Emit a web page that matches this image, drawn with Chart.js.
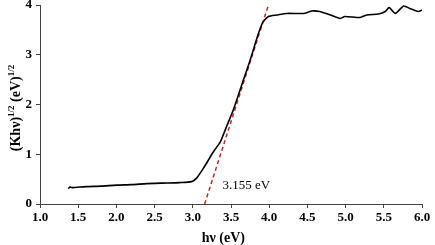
<!DOCTYPE html>
<html>
<head>
<meta charset="utf-8">
<script src="https://cdn.jsdelivr.net/npm/chart.js@4/dist/chart.umd.min.js"></script>
<style>
  html, body { margin: 0; padding: 0; background: #fff; }
  #wrap { width: 435px; height: 245px; }
</style>
</head>
<body>
<div id="wrap"><canvas id="tauc" width="435" height="245"></canvas></div>
<script>
// Tauc plot data
const hv = [1.37, 1.39, 1.42, 1.6, 1.8, 2.0, 2.2, 2.4, 2.6, 2.83, 2.985, 3.05, 3.14, 3.27, 3.36, 3.44, 3.53, 3.64, 3.75, 3.86, 3.92, 3.99, 4.1, 4.23, 4.45, 4.56, 4.66, 4.8, 4.93, 4.99, 5.19, 5.28, 5.43, 5.52, 5.57, 5.65, 5.76, 5.84, 5.95, 6.0];
const khv = [0.31, 0.34, 0.33, 0.35, 0.36, 0.38, 0.39, 0.41, 0.42, 0.43, 0.45, 0.52, 0.72, 1.05, 1.25, 1.55, 1.89, 2.39, 2.89, 3.43, 3.66, 3.77, 3.80, 3.83, 3.83, 3.88, 3.87, 3.80, 3.73, 3.77, 3.75, 3.80, 3.82, 3.87, 3.95, 3.83, 3.98, 3.93, 3.87, 3.90];

// linear fit (dashed red)
const fitX = [3.155, 3.99];
const fitY = [0, 4];

const xTicks = [1.0, 1.5, 2.0, 2.5, 3.0, 3.5, 4.0, 4.5, 5.0, 5.5, 6.0];
const yTicks = [0, 1, 2, 3, 4];
const gapLabel = '3.155 eV';

const serif = '"Liberation Serif", "Times New Roman", serif';

// axis titles with superscripts + annotation
const titlesPlugin = {
    id: 'titles',
    afterDraw(chart) {
        const c = chart.ctx;
        const xs = chart.scales.x, ys = chart.scales.y;
        c.save();
        c.fillStyle = '#000';

        // x title
        c.font = 'bold 14px ' + serif;
        c.textAlign = 'center';
        c.textBaseline = 'alphabetic';
        c.fillText('hν (eV)', xs.getPixelForValue(3.4), 242);

        // y title, rotated
        const parts = [
            { t: '(Khν)', sup: false },
            { t: '1/2', sup: true },
            { t: ' (eV)', sup: false },
            { t: '1/2', sup: true }
        ];
        let total = 0;
        parts.forEach(p => {
            c.font = (p.sup ? 'bold 9px ' : 'bold 14px ') + serif;
            p.w = c.measureText(p.t).width;
            total += p.w;
        });
        c.translate(20, 108);
        c.rotate(-Math.PI / 2);
        c.textAlign = 'left';
        let pos = -total / 2;
        parts.forEach(p => {
            c.font = (p.sup ? 'bold 9px ' : 'bold 14px ') + serif;
            c.fillText(p.t, pos, p.sup ? -6 : 0);
            pos += p.w;
        });
        c.restore();

        // band gap label
        c.save();
        c.font = '13px ' + serif;
        c.fillStyle = '#000';
        c.textAlign = 'left';
        c.textBaseline = 'middle';
        c.fillText(gapLabel, xs.getPixelForValue(3.39), ys.getPixelForValue(0.38));
        c.restore();
    }
};

const ctx = document.getElementById('tauc').getContext('2d');
const taucChart = new Chart(ctx, {
    type: 'scatter',
    data: {
        datasets: [
            {
                data: hv.map((v, i) => ({ x: v, y: khv[i] })),
                showLine: true,
                borderColor: '#000',
                borderWidth: 1.6,
                pointRadius: 0,
                tension: 0.2
            },
            {
                data: fitX.map((v, i) => ({ x: v, y: fitY[i] })),
                showLine: true,
                borderColor: '#c0282d',
                borderWidth: 1.5,
                borderDash: [4, 3],
                pointRadius: 0
            }
        ]
    },
    options: {
        responsive: false,
        animation: false,
        layout: { padding: { top: 5, right: 13, left: 0, bottom: 0 } },
        plugins: { legend: { display: false }, tooltip: { enabled: false } },
        scales: {
            x: {
                type: 'linear',
                min: 1, max: 6,
                afterBuildTicks: s => { s.ticks = xTicks.map(v => ({ value: v })); },
                afterFit: s => { s.height = 41; s.paddingLeft = 0; s.paddingRight = 0; },
                ticks: {
                    color: '#000',
                    padding: 2,
                    maxRotation: 0,
                    font: { family: serif, size: 13, weight: 'bold' },
                    callback: v => v.toFixed(1)
                },
                grid: { drawOnChartArea: false, drawTicks: true, tickLength: 4, color: '#444' },
                border: { color: '#444', width: 1 }
            },
            y: {
                min: 0, max: 4,
                afterBuildTicks: s => { s.ticks = yTicks.map(v => ({ value: v })); },
                afterFit: s => { s.width = 40; s.paddingTop = 0; s.paddingBottom = 0; },
                ticks: {
                    color: '#000',
                    padding: 4,
                    font: { family: serif, size: 13, weight: 'bold' }
                },
                grid: { drawOnChartArea: false, drawTicks: true, tickLength: 4, color: '#444' },
                border: { color: '#444', width: 1 }
            }
        }
    },
    plugins: [titlesPlugin]
});
</script>
</body>
</html>
